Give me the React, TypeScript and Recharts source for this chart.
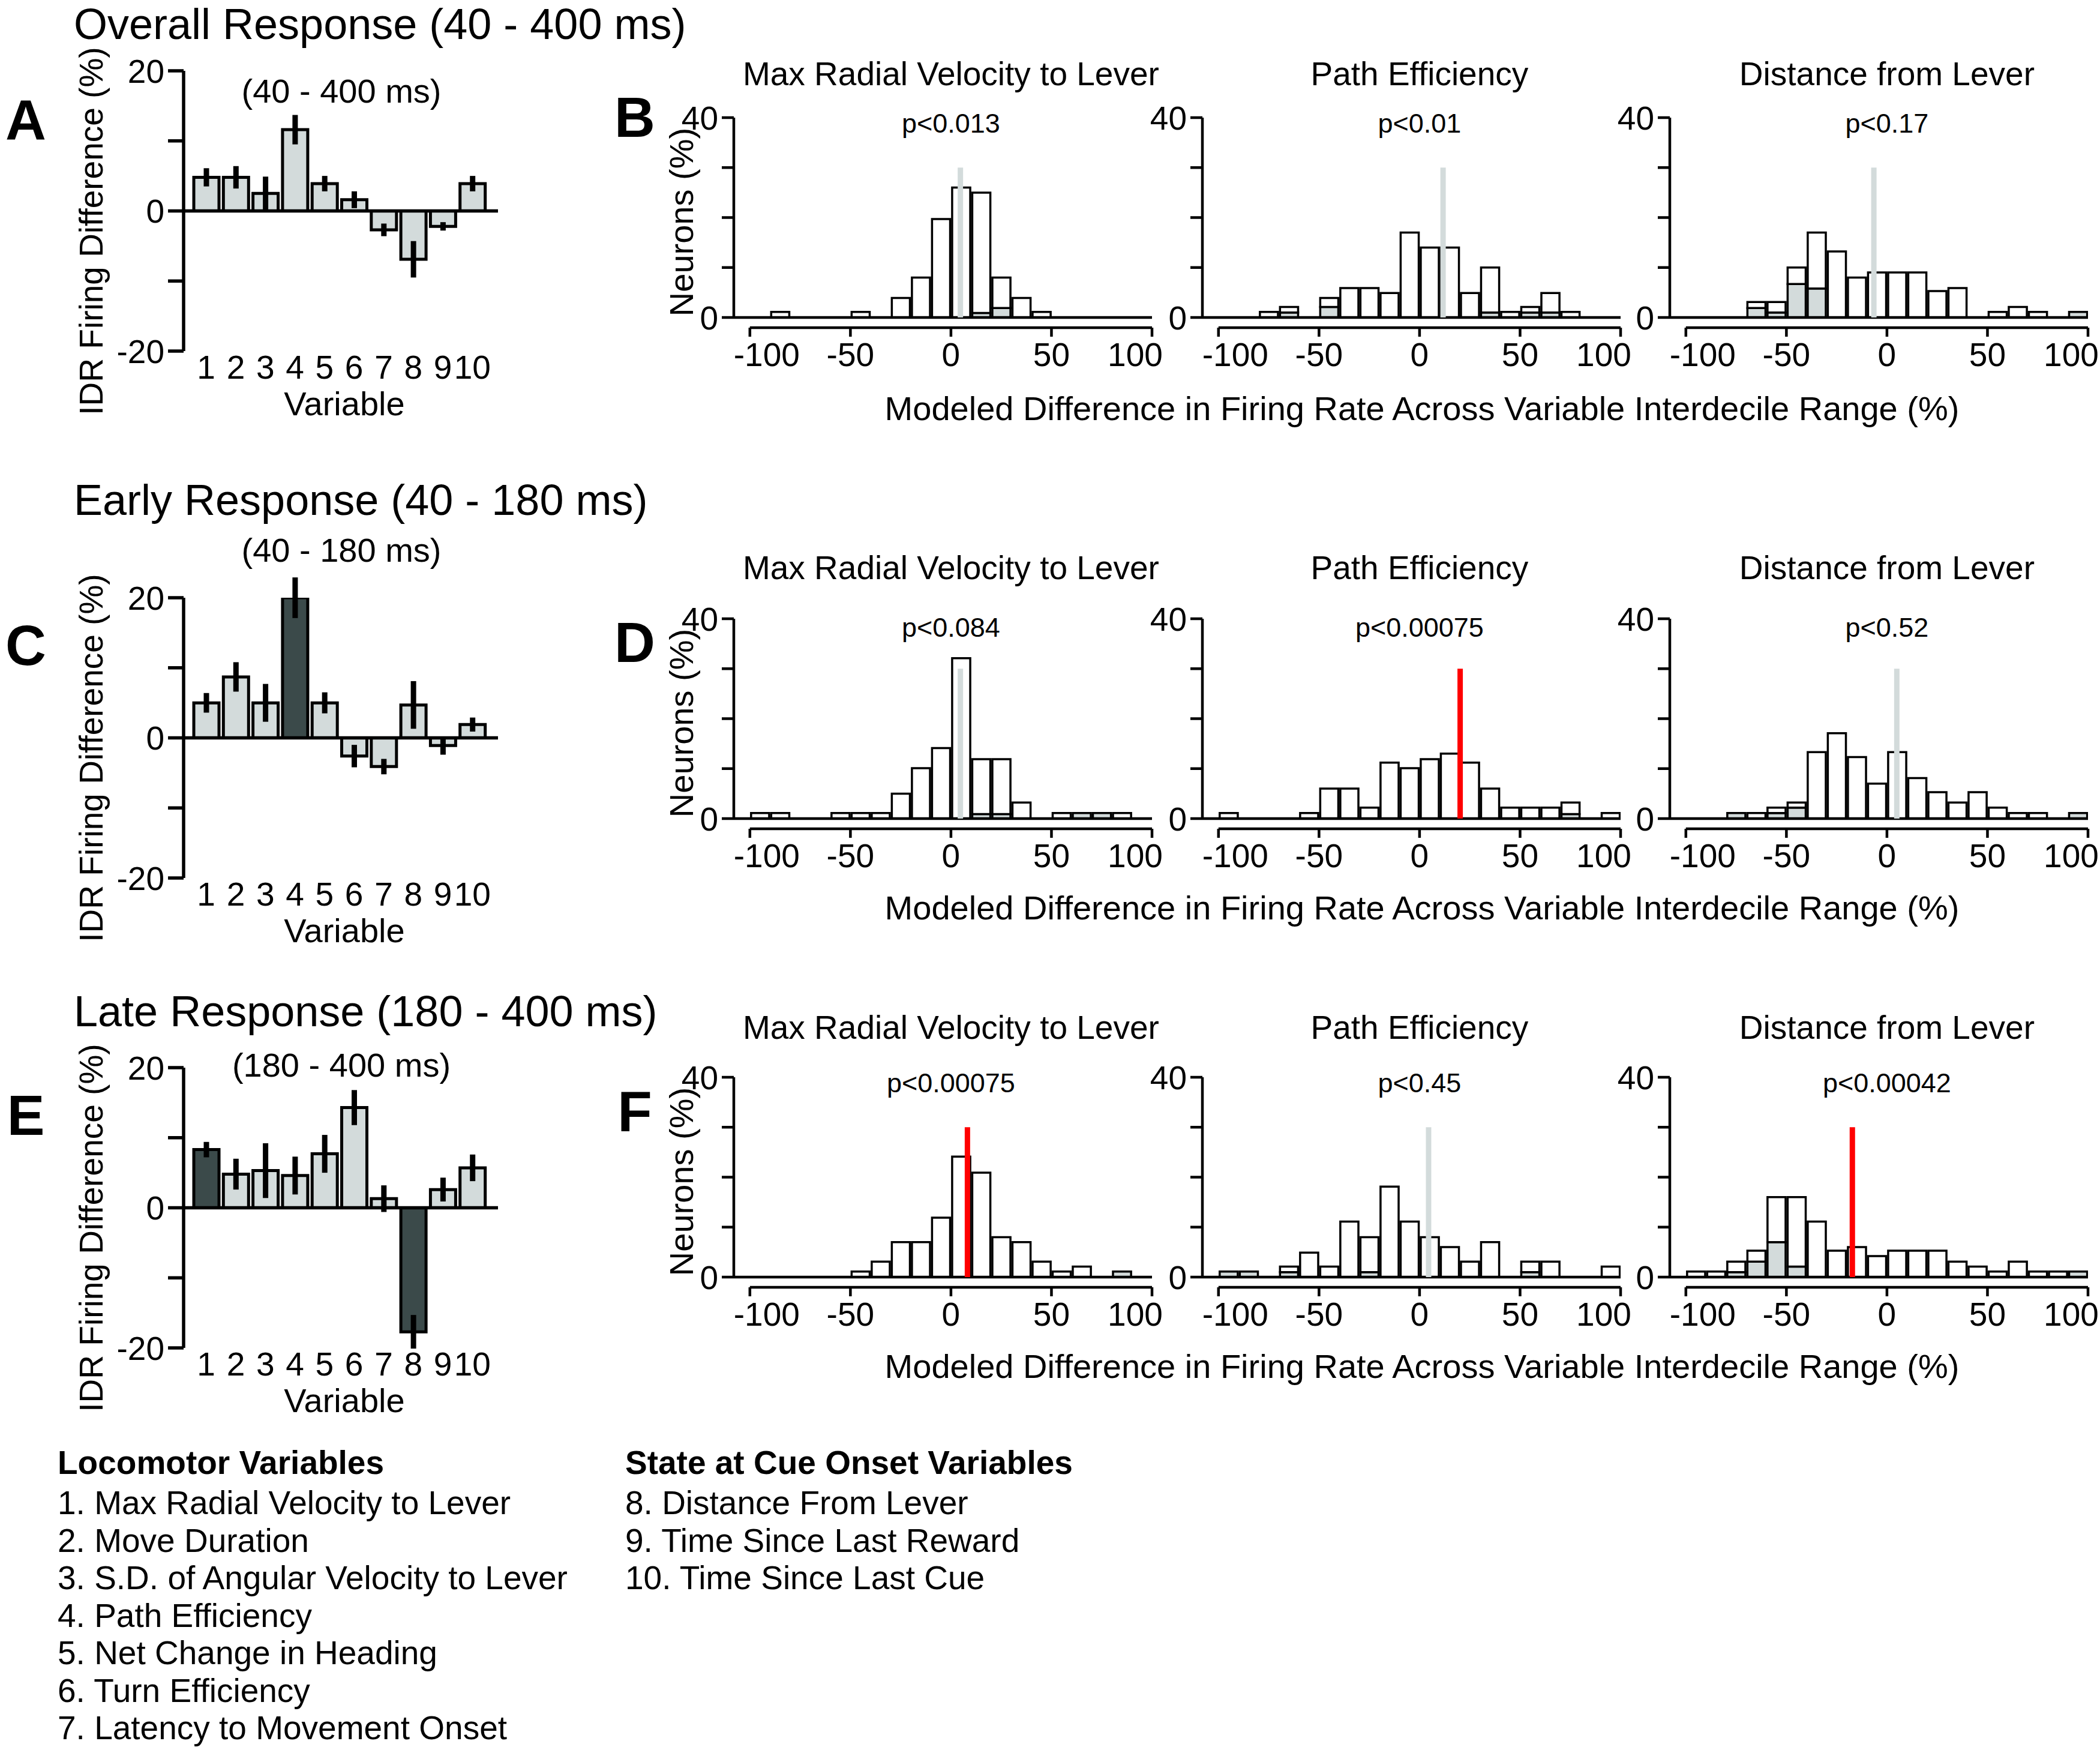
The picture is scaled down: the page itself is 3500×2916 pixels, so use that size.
import React from 'react';
import {
  BarChart,
  Bar,
  XAxis,
  YAxis,
  Cell,
  ErrorBar,
  ReferenceLine,
} from 'recharts';

// ---------- data ----------
const VARIABLES = ['1', '2', '3', '4', '5', '6', '7', '8', '9', '10'];

// IDR firing difference (%) per variable, with error
const OVERALL_DIFF = [4.8, 4.8, 2.5, 11.6, 3.9, 1.6, -2.7, -6.9, -2.2, 3.9];
const OVERALL_ERR = [1.3, 1.6, 2.4, 2.1, 1.1, 1.2, 0.9, 2.6, 0.6, 1.1];
const OVERALL_SIG: number[] = [];

const EARLY_DIFF = [5.0, 8.7, 5.0, 20.0, 5.0, -2.6, -4.1, 4.7, -1.1, 1.9];
const EARLY_ERR = [1.4, 2.1, 2.7, 2.9, 1.5, 1.6, 1.1, 3.4, 1.3, 1.0];
const EARLY_SIG = [4];

const LATE_DIFF = [8.3, 4.8, 5.3, 4.6, 7.7, 14.3, 1.3, -17.7, 2.6, 5.7];
const LATE_ERR = [1.1, 2.2, 3.9, 2.7, 2.7, 2.5, 1.9, 2.4, 1.7, 1.9];
const LATE_SIG = [1, 8];

// histogram bins (10% wide, -100..100)
const BIN_CENTERS = [-95, -85, -75, -65, -55, -45, -35, -25, -15, -5, 5, 15, 25, 35, 45, 55, 65, 75, 85, 95];
const HIST_TICKS = [-100, -50, 0, 50, 100];
const PANEL_TITLES = ['Max Radial Velocity to Lever', 'Path Efficiency', 'Distance from Lever'];

// overall response
const OV_VEL_ALL = [0, 1.1, 0, 0, 0, 1.1, 0, 3.9, 8.0, 19.7, 26.0, 25.0, 8.0, 3.9, 1.1, 0, 0, 0, 0, 0];
const OV_VEL_SIG = [0, 0, 0, 0, 0, 0, 0, 0, 0, 0, 0, 0.9, 1.9, 0, 0, 0, 0, 0, 0, 0];
const OV_PATH_ALL = [0, 0, 1.1, 2.1, 0, 3.9, 5.9, 5.9, 4.9, 17.0, 14.0, 14.0, 4.9, 10.0, 1.1, 2.1, 4.9, 1.1, 0, 0];
const OV_PATH_SIG = [0, 0, 0, 1.0, 0, 2.1, 0, 0, 0, 0, 0, 0, 0, 1.0, 0, 1.0, 1.0, 0, 0, 0];
const OV_DIST_ALL = [0, 0, 0, 3.1, 3.1, 10.0, 17.0, 13.2, 8.0, 9.0, 9.0, 9.0, 5.3, 5.9, 0, 1.1, 2.1, 1.1, 0, 1.1];
const OV_DIST_SIG = [0, 0, 0, 1.9, 1.0, 6.7, 5.8, 0, 0, 0, 0, 0, 0, 0, 0, 0, 0, 0, 0, 1.1];
const OV_P = ['p<0.013', 'p<0.01', 'p<0.17'];
const OV_MEDIAN = [4.7, 11.7, -6.5];
const OV_MEDIAN_SIG = [false, false, false];

// early response
const EA_VEL_ALL = [1.1, 1.1, 0, 0, 1.1, 1.1, 1.1, 5.0, 10.1, 14.1, 32.1, 11.9, 11.9, 3.2, 0, 1.1, 1.1, 1.1, 1.1, 0];
const EA_VEL_SIG = [0, 0, 0, 0, 0, 0, 0, 0, 0, 0, 0, 0.9, 0.9, 0, 0, 0, 1.1, 1.1, 0, 0];
const EA_PATH_ALL = [1.1, 0, 0, 0, 1.1, 6.0, 6.0, 2.2, 11.2, 10.1, 11.9, 13.0, 11.2, 6.0, 2.2, 2.2, 2.2, 3.2, 0, 1.1];
const EA_PATH_SIG = [0, 0, 0, 0, 0, 0, 0, 0, 0, 0, 0, 0, 0, 0, 0, 0, 0, 0.9, 0, 0];
const EA_DIST_ALL = [0, 0, 1.1, 1.1, 2.2, 3.2, 13.3, 17.1, 12.3, 7.0, 13.3, 8.1, 5.3, 3.2, 5.3, 2.2, 1.1, 1.1, 0, 1.1];
const EA_DIST_SIG = [0, 0, 1.1, 0, 1.1, 2.2, 0, 0, 0, 0, 0, 0, 0, 0, 0, 0, 0, 0, 0, 1.1];
const EA_P = ['p<0.084', 'p<0.00075', 'p<0.52'];
const EA_MEDIAN = [4.7, 20.2, 4.9];
const EA_MEDIAN_SIG = [false, true, false];

// late response
const LA_VEL_ALL = [0, 0, 0, 0, 0, 1.1, 3.1, 7.0, 7.0, 11.9, 24.1, 20.9, 8.0, 7.0, 3.1, 1.1, 2.1, 0, 1.1, 0];
const LA_VEL_SIG = [0, 0, 0, 0, 0, 0, 0, 0, 0, 0, 0, 0, 0, 0, 0, 0, 0, 0, 1.1, 0];
const LA_PATH_ALL = [1.1, 1.1, 0, 2.1, 4.9, 2.1, 11.1, 8.0, 18.1, 11.1, 8.0, 6.0, 3.1, 7.0, 0, 3.1, 3.1, 0, 0, 2.1];
const LA_PATH_SIG = [1.1, 1.1, 0, 1.0, 0, 0, 0, 1.0, 0, 0, 0, 0, 0, 0, 0, 1.0, 0, 0, 0, 0];
const LA_DIST_ALL = [1.1, 1.1, 3.1, 5.3, 16.0, 16.0, 11.1, 5.3, 6.0, 4.2, 5.3, 5.3, 5.3, 3.1, 2.1, 1.1, 3.1, 1.1, 1.1, 1.1];
const LA_DIST_SIG = [0, 0, 1.0, 3.1, 7.0, 2.1, 0, 0, 0, 0, 0, 0, 0, 0, 0, 0, 0, 0, 0, 1.1];
const LA_P = ['p<0.00075', 'p<0.45', 'p<0.00042'];
const LA_MEDIAN = [8.2, 4.5, -17.2];
const LA_MEDIAN_SIG = [true, false, true];

const LOCOMOTOR_VARS = [
  '1. Max Radial Velocity to Lever',
  '2. Move Duration',
  '3. S.D. of Angular Velocity to Lever',
  '4. Path Efficiency',
  '5. Net Change in Heading',
  '6. Turn Efficiency',
  '7. Latency to Movement Onset',
];
const STATE_VARS = ['8. Distance From Lever', '9. Time Since Last Reward', '10. Time Since Last Cue'];

// ---------- layout / style ----------
const FONT = '"Liberation Sans", Arial, Helvetica, sans-serif';
const LIGHT = '#d3dbdb';
const DARK = '#3b4a4a';
const RED = '#ff0000';

const BAR_X = 306; // y-axis x of the variable bar charts
const BAR_W = 524;
const BAR_H = 467;

const HIST_X = [1223, 2004, 2783]; // y-axis x of each histogram
const HIST_W = 697;
const HIST_H = 333;
const HIST_EXT = 17; // gap between baseline and x axis
const X_DOMAIN: [number, number] = [-108, 100];
const END_LABEL_INSET = 28; // the +-100 labels sit a little inside their ticks

const ROWS = [
  {
    title: 'Overall Response (40 - 400 ms)', titleY: 40, sub: '(40 - 400 ms)', subY: 152,
    letters: ['A', 'B'], letterY: [201, 196],
    diff: OVERALL_DIFF, err: OVERALL_ERR, sig: OVERALL_SIG, y20: 118,
    hists: [[OV_VEL_ALL, OV_VEL_SIG], [OV_PATH_ALL, OV_PATH_SIG], [OV_DIST_ALL, OV_DIST_SIG]],
    p: OV_P, med: OV_MEDIAN, medSig: OV_MEDIAN_SIG, y40: 196, panelY: 123, pY: 205, xLabelY: 681,
  },
  {
    title: 'Early Response (40 - 180 ms)', titleY: 833, sub: '(40 - 180 ms)', subY: 917,
    letters: ['C', 'D'], letterY: [1076, 1071],
    diff: EARLY_DIFF, err: EARLY_ERR, sig: EARLY_SIG, y20: 996,
    hists: [[EA_VEL_ALL, EA_VEL_SIG], [EA_PATH_ALL, EA_PATH_SIG], [EA_DIST_ALL, EA_DIST_SIG]],
    p: EA_P, med: EA_MEDIAN, medSig: EA_MEDIAN_SIG, y40: 1031, panelY: 946, pY: 1045, xLabelY: 1513,
  },
  {
    title: 'Late Response (180 - 400 ms)', titleY: 1685, sub: '(180 - 400 ms)', subY: 1775,
    letters: ['E', 'F'], letterY: [1859, 1853],
    diff: LATE_DIFF, err: LATE_ERR, sig: LATE_SIG, y20: 1779,
    hists: [[LA_VEL_ALL, LA_VEL_SIG], [LA_PATH_ALL, LA_PATH_SIG], [LA_DIST_ALL, LA_DIST_SIG]],
    p: LA_P, med: LA_MEDIAN, medSig: LA_MEDIAN_SIG, y40: 1795, panelY: 1712, pY: 1804, xLabelY: 2277,
  },
];

// text helper: positioned by its centre (or left edge)
function T({ x, y, size, children, bold = false, rotate = false, left = false }: any) {
  const tr = left ? 'translate(0,-50%)' : rotate ? 'translate(-50%,-50%) rotate(-90deg)' : 'translate(-50%,-50%)';
  return (
    <div
      style={{
        position: 'absolute', left: x, top: y, transform: tr, fontSize: size, lineHeight: 1,
        fontWeight: bold ? 'bold' : 'normal', whiteSpace: 'nowrap', fontFamily: FONT, color: '#000',
      }}
    >
      {children}
    </div>
  );
}

// x tick label of the histograms; end labels pulled in a bit like the original
function HistTick({ x, y, payload }: any) {
  const v = payload.value;
  const shift = v === -100 ? END_LABEL_INSET : v === 100 ? -END_LABEL_INSET : 0;
  return (
    <text x={x + shift} y={y} dy="0.71em" textAnchor="middle" fontSize={55} fontFamily={FONT} fill="#000">
      {v}
    </text>
  );
}

function VarChart({ diff, err, sig, y20 }: any) {
  const data = VARIABLES.map((v, i) => ({ v, val: diff[i], err: err[i], sig: sig.includes(i + 1) }));
  const yw = 110;
  const mt = 45;
  return (
    <div style={{ position: 'absolute', left: BAR_X - yw, top: y20 - mt }}>
      <BarChart
        width={yw + BAR_W + 30}
        height={mt + BAR_H + 80}
        data={data}
        margin={{ top: mt, right: 30, left: 0, bottom: 0 }}
        barSize={42}
      >
        <XAxis
          dataKey="v"
          axisLine={false}
          tickLine={false}
          tickSize={0}
          tickMargin={7}
          height={80}
          padding={{ left: 13, right: 18 }}
          interval={0}
          tick={{ fontSize: 55, fill: '#000', fontFamily: FONT }}
        />
        <YAxis
          domain={[-20, 20]}
          ticks={[-20, -10, 0, 10, 20]}
          allowDataOverflow
          width={yw}
          interval={0}
          axisLine={{ stroke: '#000', strokeWidth: 5.5 }}
          tickLine={{ stroke: '#000', strokeWidth: 5.5 }}
          tickSize={26}
          tickMargin={6}
          tickFormatter={(t: number) => (t % 20 === 0 ? String(t) : '')}
          tick={{ fontSize: 55, fill: '#000', fontFamily: FONT }}
        />
        <Bar dataKey="val" stroke="#000" strokeWidth={5} isAnimationActive={false}>
          {data.map((d, i) => (
            <Cell key={i} fill={d.sig ? DARK : LIGHT} />
          ))}
          <ErrorBar dataKey="err" width={0} strokeWidth={9} stroke="#000" direction="y" isAnimationActive={false} />
        </Bar>
        <ReferenceLine y={0} stroke="#000" strokeWidth={5.5} />
      </BarChart>
    </div>
  );
}

function Histogram({ all, sig, median, medianSig, xLeft, y40 }: any) {
  const pxPerUnit = HIST_H / 40;
  const yMin = -HIST_EXT / pxPerUnit;
  const binPx = (HIST_W / (X_DOMAIN[1] - X_DOMAIN[0])) * 10;
  const data = BIN_CENTERS.map((c, i) => ({ x: c, sig: sig[i], rest: all[i] - sig[i] }));
  const yw = 100;
  const mt = 45;
  const mr = 40;
  return (
    <div style={{ position: 'absolute', left: xLeft - yw, top: y40 - mt }}>
      <BarChart
        width={yw + HIST_W + mr}
        height={mt + HIST_H + HIST_EXT + 90}
        data={data}
        margin={{ top: mt, right: mr, left: 0, bottom: 0 }}
        barGap={0}
        barCategoryGap={0}
      >
        <XAxis
          dataKey="x"
          type="number"
          scale="linear"
          domain={X_DOMAIN}
          allowDataOverflow
          ticks={HIST_TICKS}
          interval={0}
          axisLine={false}
          tickLine={{ stroke: '#000', strokeWidth: 4.5 }}
          tickSize={15}
          tickMargin={10}
          height={90}
          tick={<HistTick />}
        />
        <YAxis
          type="number"
          domain={[yMin, 40]}
          allowDataOverflow
          ticks={[0, 10, 20, 30, 40]}
          interval={0}
          width={yw}
          axisLine={false}
          tickLine={{ stroke: '#000', strokeWidth: 4.5 }}
          tickSize={20}
          tickMargin={6}
          tickFormatter={(t: number) => (t === 0 || t === 40 ? String(t) : '')}
          tick={{ fontSize: 55, fill: '#000', fontFamily: FONT }}
        />
        <Bar dataKey="sig" stackId="h" fill={LIGHT} stroke="#000" strokeWidth={3.5} barSize={binPx} isAnimationActive={false} />
        <Bar dataKey="rest" stackId="h" fill="#fff" stroke="#000" strokeWidth={3.5} barSize={binPx} isAnimationActive={false} />
        <ReferenceLine y={0} stroke="#000" strokeWidth={4.5} />
        <ReferenceLine segment={[{ x: X_DOMAIN[0], y: 0 }, { x: X_DOMAIN[0], y: 40 }]} stroke="#000" strokeWidth={4.5} />
        <ReferenceLine segment={[{ x: -100, y: yMin }, { x: 100, y: yMin }]} stroke="#000" strokeWidth={4.5} />
        <ReferenceLine
          segment={[{ x: median, y: 0 }, { x: median, y: 30 }]}
          stroke={medianSig ? RED : LIGHT}
          strokeWidth={9}
        />
      </BarChart>
    </div>
  );
}

export default function App() {
  const zeroOffset = ((0 - X_DOMAIN[0]) / (X_DOMAIN[1] - X_DOMAIN[0])) * HIST_W;
  return (
    <div style={{ position: 'absolute', left: 0, top: 0, width: 3500, height: 2916, background: '#fff', overflow: 'hidden', fontFamily: FONT }}>
      {ROWS.map((r, ri) => (
        <React.Fragment key={ri}>
          <T x={123} y={r.titleY} size={72} left>{r.title}</T>
          <T x={43} y={r.letterY[0]} size={94} bold>{r.letters[0]}</T>
          <T x={1058} y={r.letterY[1]} size={94} bold>{r.letters[1]}</T>
          <T x={569} y={r.subY} size={56}>{r.sub}</T>
          <T x={152} y={r.y20 + BAR_H / 2 + 33} size={55} rotate>IDR Firing Difference (%)</T>
          <T x={574} y={r.y20 + BAR_H + 88} size={56}>Variable</T>
          <VarChart diff={r.diff} err={r.err} sig={r.sig} y20={r.y20} />

          <T x={1136} y={r.y40 + 174} size={56} rotate>Neurons (%)</T>
          {r.hists.map((h, hi) => (
            <React.Fragment key={hi}>
              <T x={HIST_X[hi] + zeroOffset} y={r.panelY} size={55}>{PANEL_TITLES[hi]}</T>
              <T x={HIST_X[hi] + zeroOffset} y={r.pY} size={45}>{r.p[hi]}</T>
              <Histogram
                all={h[0]}
                sig={h[1]}
                median={r.med[hi]}
                medianSig={r.medSig[hi]}
                xLeft={HIST_X[hi]}
                y40={r.y40}
              />
            </React.Fragment>
          ))}
          <T x={2370} y={r.xLabelY} size={56}>Modeled Difference in Firing Rate Across Variable Interdecile Range (%)</T>
        </React.Fragment>
      ))}

      <T x={96} y={2437} size={55} bold left>Locomotor Variables</T>
      {LOCOMOTOR_VARS.map((s, i) => (
        <T key={s} x={96} y={2504 + i * 62.5} size={55} left>{s}</T>
      ))}
      <T x={1042} y={2437} size={55} bold left>State at Cue Onset Variables</T>
      {STATE_VARS.map((s, i) => (
        <T key={s} x={1042} y={2504 + i * 62.5} size={55} left>{s}</T>
      ))}
    </div>
  );
}
